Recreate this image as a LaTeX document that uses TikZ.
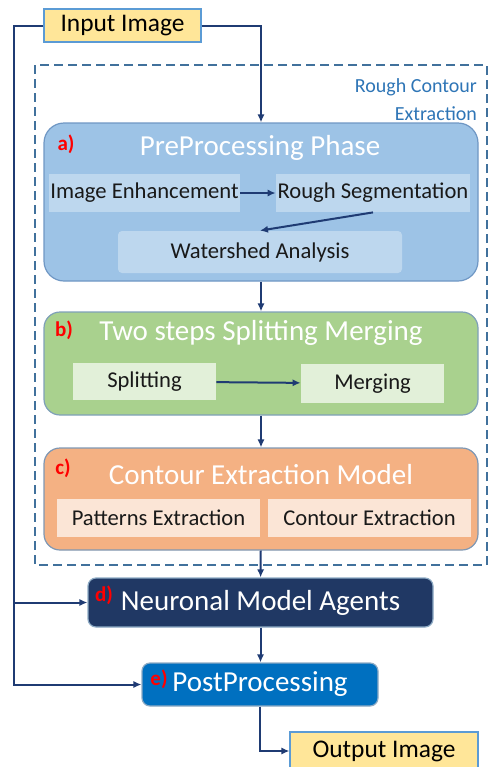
\documentclass[tikz,border=0pt]{standalone}
\usepackage{fontspec}
\setmainfont{Carlito}
\usepackage{xcolor}
\usetikzlibrary{
    arrows.meta,
    positioning
}
\definecolor{arrowblue}{HTML}{1F3B73}
\definecolor{regionblue}{HTML}{41719C}
\definecolor{labelblue}{HTML}{2E75B6}
\definecolor{ioyellow}{HTML}{FFE699}
\definecolor{ioedge}{HTML}{5B9BD5}
\definecolor{afill}{HTML}{9DC3E6}
\definecolor{asub}{HTML}{BDD7EE}
\definecolor{aedge}{HTML}{6F97C4}
\definecolor{bfill}{HTML}{A9D18E}
\definecolor{bsub}{HTML}{E2F0D9}
\definecolor{bedge}{HTML}{7FA0B8}
\definecolor{cfill}{HTML}{F4B183}
\definecolor{csub}{HTML}{FBE5D6}
\definecolor{cedge}{HTML}{7F98B4}
\definecolor{dfill}{HTML}{203864}
\definecolor{efill}{HTML}{0070C0}

\begin{document}
\begin{tikzpicture}[x=0.5pt,y=-0.5pt,
	flow/.style={-{Latex[length=4pt,width=3.6pt]},line width=1pt,draw=arrowblue},
	region/.style={draw=regionblue,line width=1pt,dash pattern=on 4.5pt off 2.5pt},
	io/.style={draw=ioedge,fill=ioyellow,line width=0.6pt,inner sep=0pt,minimum height=16.5pt,font=\fontsize{12.7}{14}\selectfont},
	phase/.style={line width=0.6pt,inner sep=0pt,minimum width=217pt},
	sub/.style={inner sep=0pt,minimum height=19pt,text=black!90,font=\fontsize{11.3}{13}\selectfont},
	title/.style={text=white,font=\fontsize{14.5}{17}\selectfont},
	stage/.style={title,draw=regionblue!60,line width=0.6pt,inner sep=0pt,rounded corners=4pt},
	tag/.style={text=red,font=\bfseries\fontsize{10.5}{12}\selectfont}]
				\clip (0,0) rectangle (490,767);
				\draw[region] (35,65) rectangle (487,565);
				\node at (484,72) [anchor=north east,align=right,text=labelblue,font=\fontsize{10}{14}\selectfont] (roughlbl) {Rough Contour\\Extraction};
				\node at (122.5,25.5) [io,minimum width=78.5pt] (inimg) {Input Image};
				\node at (384,751) [io,minimum width=94pt,minimum height=19pt] (outimg) {Output Image};
				\node at (261,202) [phase,fill=afill,draw=aedge,rounded corners=10pt,minimum height=79pt] (pre) {};
				\node at (260,148) [title] (pretitle) {PreProcessing Phase};
				\node at (66,144) [tag] (taga) {a)};
				\node at (144.5,193) [sub,fill=asub,minimum width=95.5pt] (enh) {Image Enhancement};
				\node at (373,193) [sub,fill=asub,minimum width=97pt] (rough) {Rough Segmentation};
				\node at (260,252) [sub,fill=asub,rounded corners=2pt,minimum width=142pt,minimum height=21pt] (water) {Watershed Analysis};
				\node at (261,363.5) [phase,fill=bfill,draw=bedge,rounded corners=8pt,minimum height=51.5pt] (split) {};
				\node at (261,333) [title] (splittitle) {Two steps Splitting Merging};
				\node at (64,330) [tag] (tagb) {b)};
				\node at (144.5,381.5) [sub,fill=bsub,minimum width=71.5pt,minimum height=18.5pt] (spl) {Splitting};
				\node at (372.5,383.5) [sub,fill=bsub,minimum width=71.5pt,minimum height=19.5pt] (mrg) {Merging};
				\node at (261,499) [phase,fill=cfill,draw=cedge,rounded corners=8pt,minimum height=51pt] (contour) {};
				\node at (261,475) [title] (contourtitle) {Contour Extraction Model};
				\node at (63,468) [tag] (tagc) {c)};
				\node at (158.5,518) [sub,fill=csub,minimum width=101.5pt] (pat) {Patterns Extraction};
				\node at (369.5,518) [sub,fill=csub,minimum width=101.5pt] (cext) {Contour Extraction};
				\node at (260.5,602.5) [stage,fill=dfill,minimum width=172.5pt,minimum height=24.5pt] (neur) {Neuronal Model Agents};
				\node at (104,595) [tag] (tagd) {d)};
				\node at (260,684.5) [stage,fill=efill,minimum width=118pt,minimum height=21.5pt] (post) {PostProcessing};
				\node at (159,679) [tag] (tage) {e)};
				\coordinate (rail) at (14,602.5);
				\draw[flow] (inimg.east) -| (pre.north);
				\draw[flow] (inimg.west) -| (rail) -- (neur.west);
				\draw[flow] (rail) |- (post.west);
				\draw[flow] (enh) -- (rough);
				\draw[flow] (rough.south) -- (water.north);
				\draw[flow] (spl) -- (mrg);
				\draw[flow] (pre) -- (split);
				\draw[flow] (split) -- (contour);
				\draw[flow] (contour) -- (neur);
				\draw[flow] (neur.south) -- (neur.south |- post.north);
				\draw[flow] (post.south) |- (outimg.west);
			\end{tikzpicture}
\end{document}
